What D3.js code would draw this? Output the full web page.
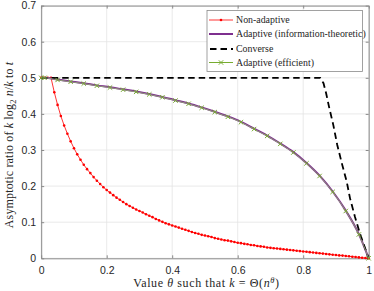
<!DOCTYPE html>
<html>
<head>
<meta charset="utf-8">
<script src="https://cdn.jsdelivr.net/npm/d3@7"></script>
<style>
  body { margin: 0; background: #fff; }
  .axis text { font-family: "Liberation Sans", Arial, sans-serif; font-size: 10.5px; fill: #262626; }
  .axis path, .axis line { stroke: #8a8a8a; }
</style>
</head>
<body>
<script>
// data
var xTicks = [0, 0.2, 0.4, 0.6, 0.8, 1];
var yTicks = [0, 0.1, 0.2, 0.3, 0.4, 0.5, 0.6, 0.7];

// non-adaptive: theta = 0, 0.01, ..., 1
var nonAdaptive = [0.5, 0.5, 0.5, 0.5, 0.46, 0.425, 0.394, 0.368, 0.345, 0.324,
    0.305, 0.288, 0.273, 0.259, 0.247, 0.236, 0.225, 0.215, 0.206, 0.197,
    0.189, 0.182, 0.175, 0.168, 0.162, 0.156, 0.150, 0.145, 0.140, 0.135,
    0.131, 0.127, 0.122, 0.118, 0.114, 0.109, 0.105, 0.101, 0.097, 0.094,
    0.091, 0.088, 0.085, 0.082, 0.079, 0.076, 0.073, 0.070, 0.068, 0.065,
    0.063, 0.061, 0.059, 0.056, 0.054, 0.052, 0.050, 0.049, 0.047, 0.045,
    0.043, 0.042, 0.040, 0.039, 0.037, 0.036, 0.034, 0.033, 0.032, 0.030,
    0.029, 0.028, 0.027, 0.026, 0.025, 0.024, 0.023, 0.022, 0.021, 0.020,
    0.019, 0.018, 0.017, 0.016, 0.015, 0.014, 0.013, 0.012, 0.011, 0.010,
    0.009, 0.008, 0.0075, 0.0065, 0.0055, 0.0045, 0.0035, 0.0025, 0.0015, 0.0008, 0];

// adaptive curves: theta = 0, 0.01, 0.05, ..., 0.97, 1
var adaptiveTheta = [0, 0.01, 0.05, 0.09, 0.13, 0.17, 0.21, 0.25, 0.29, 0.33, 0.37, 0.41, 0.45,
    0.49, 0.53, 0.57, 0.61, 0.65, 0.69, 0.73, 0.77, 0.81, 0.85, 0.89, 0.93, 0.97, 1];
var adaptiveInfo = [0.5, 0.5, 0.495, 0.49, 0.485, 0.479, 0.474, 0.468, 0.462, 0.455, 0.447, 0.438, 0.429,
    0.418, 0.406, 0.393, 0.378, 0.359, 0.34, 0.318, 0.294, 0.264, 0.229, 0.185, 0.132, 0.067, 0];
var adaptiveEff = [0.5, 0.5, 0.494, 0.489, 0.484, 0.478, 0.473, 0.467, 0.461, 0.454, 0.446, 0.437, 0.428,
    0.417, 0.405, 0.392, 0.377, 0.358, 0.339, 0.317, 0.293, 0.263, 0.228, 0.184, 0.131, 0.066, 0];

// converse
var converseTheta = [0, 0.852, 0.862, 0.87, 0.88, 0.892, 0.904, 0.918, 0.933, 0.943, 0.958, 0.973, 0.991, 1];
var converse = [0.5, 0.5, 0.485, 0.457, 0.415, 0.369, 0.314, 0.263, 0.212, 0.166, 0.115, 0.069, 0.023, 0];

var legendNames = ["Non-adaptive", "Adaptive (information-theoretic)", "Converse", "Adaptive (efficient)"];

var serif = "'Liberation Serif', 'DejaVu Serif', serif";
var width = 374, height = 291;
var svg = d3.select("body").append("svg")
    .attr("width", width)
    .attr("height", height);

var x = d3.scaleLinear().domain([0, 1]).range([41.2, 368.7]);
var y = d3.scaleLinear().domain([0, 0.7]).range([258.3, 5.6]);

// grid
svg.append("g").selectAll("line").data(xTicks).enter().append("line")
    .attr("x1", d => x(d)).attr("x2", d => x(d))
    .attr("y1", y(0)).attr("y2", y(0.7))
    .attr("stroke", "#e5e5e5").attr("stroke-width", 0.8);
svg.append("g").selectAll("line").data(yTicks).enter().append("line")
    .attr("y1", d => y(d)).attr("y2", d => y(d))
    .attr("x1", x(0)).attr("x2", x(1))
    .attr("stroke", "#e5e5e5").attr("stroke-width", 0.8);

var fmt = d => String(+d.toFixed(1));

// axes (ticks inside, box on)
svg.append("g").attr("class", "axis")
    .attr("transform", "translate(0," + y(0) + ")")
    .call(d3.axisBottom(x).tickValues(xTicks).tickFormat(fmt).tickSizeInner(-3).tickSizeOuter(0).tickPadding(8));
svg.append("g").attr("class", "axis")
    .attr("transform", "translate(0," + y(0.7) + ")")
    .call(d3.axisTop(x).tickValues(xTicks).tickFormat("").tickSizeInner(-3).tickSizeOuter(0));
svg.append("g").attr("class", "axis")
    .attr("transform", "translate(" + x(0) + ",0)")
    .call(d3.axisLeft(y).tickValues(yTicks).tickFormat(fmt).tickSizeInner(-3).tickSizeOuter(0).tickPadding(5));
svg.append("g").attr("class", "axis")
    .attr("transform", "translate(" + x(1) + ",0)")
    .call(d3.axisRight(y).tickValues(yTicks).tickFormat("").tickSizeInner(-3).tickSizeOuter(0));

var line = d3.line().x(d => x(d[0])).y(d => y(d[1]));
var smooth = d3.line().curve(d3.curveMonotoneX).x(d => x(d[0])).y(d => y(d[1]));

// non-adaptive
var naPts = nonAdaptive.map((v, i) => [i / 100, v]);
svg.append("path").datum(naPts).attr("d", line)
    .attr("fill", "none").attr("stroke", "#ff0000").attr("stroke-width", 0.8);
svg.append("g").selectAll("circle").data(naPts).enter().append("circle")
    .attr("cx", d => x(d[0])).attr("cy", d => y(d[1])).attr("r", 1.3)
    .attr("fill", "#ff0000");

// adaptive info-theoretic
svg.append("path").datum(adaptiveTheta.map((t, i) => [t, adaptiveInfo[i]])).attr("d", smooth)
    .attr("fill", "none").attr("stroke", "#7e2f8e").attr("stroke-width", 2);

// converse
svg.append("path").datum(converseTheta.map((t, i) => [t, converse[i]])).attr("d", line)
    .attr("fill", "none").attr("stroke", "#000").attr("stroke-width", 1.8).attr("stroke-dasharray", "6.5,4");

// adaptive efficient
var effPts = adaptiveTheta.map((t, i) => [t, adaptiveEff[i]]);
svg.append("path").datum(effPts).attr("d", smooth)
    .attr("fill", "none").attr("stroke", "#8f9b7a").attr("stroke-width", 1);
svg.append("g").selectAll("path").data(effPts).enter().append("path")
    .attr("transform", d => "translate(" + x(d[0]) + "," + y(d[1]) + ")")
    .attr("d", "M-2.2,-2.2L2.2,2.2M-2.2,2.2L2.2,-2.2")
    .attr("stroke", "#77ac30").attr("stroke-width", 1);

// legend
var lg = svg.append("g").attr("transform", "translate(207,10.5)");
lg.append("rect").attr("width", 155.5).attr("height", 61)
    .attr("fill", "#fff").attr("stroke", "#8a8a8a").attr("stroke-width", 0.8);
var rowY = [9.5, 23.5, 38.5, 52];
var items = lg.selectAll("g.item").data(legendNames).enter().append("g")
    .attr("transform", (d, i) => "translate(0," + rowY[i] + ")");
items.append("text")
    .attr("x", 29).attr("y", 3.4)
    .attr("font-family", serif).attr("font-size", "9.9px").attr("fill", "#262626")
    .text(d => d);
var it = items.nodes();
d3.select(it[0]).append("line").attr("x1", 2).attr("x2", 26).attr("stroke", "#ff0000").attr("stroke-width", 0.8);
d3.select(it[0]).append("circle").attr("cx", 14).attr("r", 1.3).attr("fill", "#ff0000");
d3.select(it[1]).append("line").attr("x1", 2).attr("x2", 26).attr("stroke", "#7e2f8e").attr("stroke-width", 2);
d3.select(it[2]).append("line").attr("x1", 3).attr("x2", 26).attr("stroke", "#000").attr("stroke-width", 1.8).attr("stroke-dasharray", "6.5,4");
d3.select(it[3]).append("line").attr("x1", 2).attr("x2", 26).attr("stroke", "#77ac30").attr("stroke-width", 1);
d3.select(it[3]).append("path").attr("transform", "translate(14,0)")
    .attr("d", "M-2.2,-2.2L2.2,2.2M-2.2,2.2L2.2,-2.2").attr("stroke", "#77ac30");

// x label
var xl = svg.append("text").attr("x", 206.5).attr("y", 287).attr("text-anchor", "middle")
    .attr("font-family", serif).attr("font-size", "12px").attr("letter-spacing", "0.6px").attr("fill", "#262626");
xl.append("tspan").text("Value ");
xl.append("tspan").attr("font-style", "italic").text("θ");
xl.append("tspan").text(" such that ");
xl.append("tspan").attr("font-style", "italic").text("k");
xl.append("tspan").text(" = Θ(");
xl.append("tspan").attr("font-style", "italic").text("n");
xl.append("tspan").attr("font-style", "italic").attr("font-size", "8.5px").attr("dy", -4.5).text("θ");
xl.append("tspan").attr("dy", 4.5).text(")");

// y label
var yl = svg.append("text").attr("text-anchor", "middle")
    .attr("font-family", serif).attr("font-size", "12px").attr("letter-spacing", "0.15px").attr("fill", "#262626")
    .attr("transform", "translate(13,145) rotate(-90)");
yl.append("tspan").text("Asymptotic ratio of ");
yl.append("tspan").attr("font-style", "italic").text("k");
yl.append("tspan").text(" log");
yl.append("tspan").attr("font-size", "8.5px").attr("dy", 2.5).text("2");
yl.append("tspan").attr("dy", -2.5).text(" ");
yl.append("tspan").attr("font-style", "italic").text("n");
yl.append("tspan").text("/");
yl.append("tspan").attr("font-style", "italic").text("k");
yl.append("tspan").text(" to ");
yl.append("tspan").attr("font-style", "italic").text("t");
</script>
</body>
</html>
